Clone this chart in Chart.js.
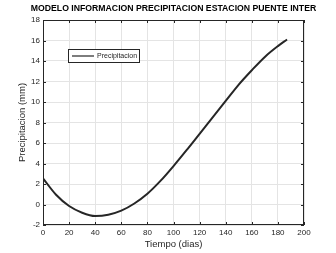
<!DOCTYPE html>
<html>
<head>
<meta charset="utf-8">
<script src="https://cdn.jsdelivr.net/npm/chart.js@4.4.1/dist/chart.umd.min.js"></script>
<style>
    html, body { margin: 0; padding: 0; background: #fff; }
</style>
</head>
<body>
<canvas id="myChart" width="336" height="253"></canvas>
<script>
// datos
const dias = [0, 10, 20, 30, 40, 50, 60, 70, 80, 90, 100, 110, 120, 130, 140, 150, 160, 170, 180, 187];
const precipitacion = [2.55, 0.95, -0.15, -0.8, -1.12, -1.0, -0.6, 0.1, 1.05, 2.3, 3.75, 5.3, 6.9, 8.5, 10.1, 11.7, 13.1, 14.4, 15.45, 16.1];
const xTicks = [0, 20, 40, 60, 80, 100, 120, 140, 160, 180, 200];
const yTicks = [-2, 0, 2, 4, 6, 8, 10, 12, 14, 16, 18];

const titulo = 'MODELO INFORMACION PRECIPITACION ESTACION PUENTE INTER';
const textColor = '#262626';
const font = 'Liberation Sans, Arial, sans-serif';

// titulo, caja tipo matlab, ticks hacia adentro y leyenda
const boxPlugin = {
    id: 'box',
    afterDraw(chart) {
        const { ctx, chartArea: a, scales: { x, y } } = chart;
        ctx.save();

        ctx.fillStyle = '#000';
        ctx.font = 'bold 8.7px ' + font;
        ctx.textAlign = 'center';
        ctx.textBaseline = 'middle';
        ctx.fillText(titulo, (a.left + a.right) / 2, 8.5);

        ctx.strokeStyle = textColor;
        ctx.lineWidth = 1;
        ctx.strokeRect(a.left + 0.5, a.top + 0.5, a.right - a.left - 1, a.bottom - a.top - 1);

        ctx.beginPath();
        xTicks.forEach((v) => {
            const px = Math.round(x.getPixelForValue(v)) + 0.5;
            ctx.moveTo(px, a.bottom); ctx.lineTo(px, a.bottom - 3);
            ctx.moveTo(px, a.top); ctx.lineTo(px, a.top + 3);
        });
        yTicks.forEach((v) => {
            const py = Math.round(y.getPixelForValue(v)) + 0.5;
            ctx.moveTo(a.left, py); ctx.lineTo(a.left + 3, py);
            ctx.moveTo(a.right, py); ctx.lineTo(a.right - 3, py);
        });
        ctx.stroke();

        // leyenda
        const lx = a.left + 25, ly = a.top + 29;
        ctx.fillStyle = '#fff';
        ctx.fillRect(lx, ly, 71, 13);
        ctx.strokeRect(lx + 0.5, ly + 0.5, 71, 13);
        ctx.beginPath();
        ctx.lineWidth = 1.2;
        ctx.moveTo(lx + 4, ly + 7); ctx.lineTo(lx + 26, ly + 7);
        ctx.stroke();
        ctx.fillStyle = textColor;
        ctx.font = '7px ' + font;
        ctx.textAlign = 'left';
        ctx.fillText('Precipitacion', lx + 29, ly + 7);
        ctx.restore();
    }
};

const ctx = document.getElementById('myChart').getContext('2d');

const data = {
    datasets: [{
        label: 'Precipitacion',
        data: dias.map((d, i) => ({ x: d, y: precipitacion[i] })),
        borderColor: textColor,
        borderWidth: 2,
        pointRadius: 0,
        cubicInterpolationMode: 'monotone',
        fill: false
    }]
};

const config = {
    type: 'line',
    data: data,
    options: {
        responsive: false,
        animation: false,
        layout: { padding: { right: 32, left: 0, top: 20, bottom: 0 } },
        plugins: {
            legend: { display: false },
            tooltip: { enabled: false },
            title: { display: false }
        },
        scales: {
            x: {
                type: 'linear',
                min: 0,
                max: 200,
                afterBuildTicks: (scale) => { scale.ticks = xTicks.map((v) => ({ value: v })); },
                afterFit: (scale) => { scale.height = 28; },
                ticks: { color: textColor, font: { family: font, size: 8 }, padding: 3, maxRotation: 0 },
                grid: { color: '#e4e4e4', drawTicks: false },
                border: { display: false },
                title: {
                    display: true,
                    text: 'Tiempo (dias)',
                    color: textColor,
                    font: { family: font, size: 9.5 },
                    padding: { top: 0, bottom: 3 }
                }
            },
            y: {
                min: -2,
                max: 18,
                afterBuildTicks: (scale) => { scale.ticks = yTicks.map((v) => ({ value: v })); },
                afterFit: (scale) => { scale.width = 43; },
                ticks: { color: textColor, font: { family: font, size: 8 }, padding: 3 },
                grid: { color: '#e4e4e4', drawTicks: false },
                border: { display: false },
                title: {
                    display: true,
                    text: 'Precipitacion (mm)',
                    color: textColor,
                    font: { family: font, size: 9.5 },
                    padding: { top: 17, bottom: 0 }
                }
            }
        }
    },
    plugins: [boxPlugin]
};

const myChart = new Chart(ctx, config);
</script>
</body>
</html>
